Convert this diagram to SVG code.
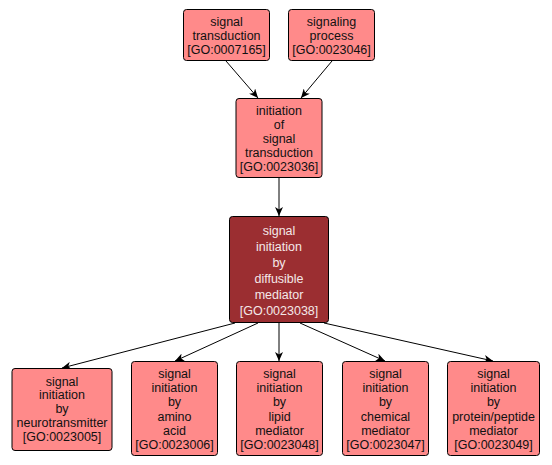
<svg xmlns="http://www.w3.org/2000/svg" width="552" height="465" viewBox="0 0 552 465">
<style>
.n rect{fill:#ff8a8a;stroke:#000;stroke-width:1}
.d rect{fill:#9b2e31;stroke:#000;stroke-width:1}
text{font-family:"Liberation Sans",Arial,sans-serif;font-size:12.5px;text-anchor:middle;fill:#111}
.d text{fill:#f4e8e8}
.e line{stroke:#000;stroke-width:1;marker-end:url(#a)}
</style>
<defs>
<marker id="a" markerWidth="10" markerHeight="8" refX="9" refY="4" orient="auto" markerUnits="userSpaceOnUse">
<path d="M0,0 L9,4 L0,8 L2.5,4 Z" fill="#000"/>
</marker>
</defs>
<rect width="552" height="465" fill="#fff"/>
<g class="e" id="edges">
<line x1="226" y1="61" x2="258" y2="98"/>
<line x1="332" y1="61" x2="301" y2="98"/>
<line x1="279" y1="178" x2="279" y2="216"/>
<line x1="235" y1="323" x2="62" y2="368"/>
<line x1="258" y1="323" x2="175" y2="361"/>
<line x1="279" y1="323" x2="279" y2="361"/>
<line x1="300" y1="323" x2="385" y2="361"/>
<line x1="324" y1="323" x2="493" y2="361"/>
</g>
<g class="n" id="GO0007165">
<rect x="183.5" y="9.5" width="86" height="51" rx="3"/>
<text x="226.5" y="26">signal</text>
<text x="226.5" y="39.5">transduction</text>
<text x="226.5" y="53.5">[GO:0007165]</text>
</g>
<g class="n" id="GO0023046">
<rect x="288.5" y="9.5" width="86" height="51" rx="3"/>
<text x="331.5" y="26">signaling</text>
<text x="331.5" y="39.5">process</text>
<text x="331.5" y="53.5">[GO:0023046]</text>
</g>
<g class="n" id="GO0023036">
<rect x="236" y="98.5" width="86" height="79" rx="3"/>
<text x="279" y="115">initiation</text>
<text x="279" y="129">of</text>
<text x="279" y="143">signal</text>
<text x="279" y="157">transduction</text>
<text x="279" y="171">[GO:0023036]</text>
</g>
<g class="d" id="GO0023038">
<rect x="229.5" y="216.5" width="99" height="106" rx="3"/>
<text x="279" y="234.5">signal</text>
<text x="279" y="251">initiation</text>
<text x="279" y="267">by</text>
<text x="279" y="283">diffusible</text>
<text x="279" y="299">mediator</text>
<text x="279" y="315">[GO:0023038]</text>
</g>
<g class="n" id="GO0023005">
<rect x="12" y="368.5" width="100" height="82" rx="3"/>
<text x="62" y="385.5">signal</text>
<text x="62" y="399">initiation</text>
<text x="62" y="413">by</text>
<text x="62" y="427">neurotransmitter</text>
<text x="62" y="441">[GO:0023005]</text>
</g>
<g class="n" id="GO0023006">
<rect x="131.5" y="361.5" width="86" height="94" rx="3"/>
<text x="174.5" y="377.5">signal</text>
<text x="174.5" y="391.5">initiation</text>
<text x="174.5" y="406">by</text>
<text x="174.5" y="420.5">amino</text>
<text x="174.5" y="434.5">acid</text>
<text x="174.5" y="448.5">[GO:0023006]</text>
</g>
<g class="n" id="GO0023048">
<rect x="236.5" y="361.5" width="86" height="94" rx="3"/>
<text x="279.5" y="377.5">signal</text>
<text x="279.5" y="391.5">initiation</text>
<text x="279.5" y="406">by</text>
<text x="279.5" y="420.5">lipid</text>
<text x="279.5" y="434.5">mediator</text>
<text x="279.5" y="448.5">[GO:0023048]</text>
</g>
<g class="n" id="GO0023047">
<rect x="342.5" y="361.5" width="86" height="94" rx="3"/>
<text x="385.5" y="377.5">signal</text>
<text x="385.5" y="391.5">initiation</text>
<text x="385.5" y="406">by</text>
<text x="385.5" y="420.5">chemical</text>
<text x="385.5" y="434.5">mediator</text>
<text x="385.5" y="448.5">[GO:0023047]</text>
</g>
<g class="n" id="GO0023049">
<rect x="447.5" y="361.5" width="92" height="94" rx="3"/>
<text x="493.5" y="377.5">signal</text>
<text x="493.5" y="391.5">initiation</text>
<text x="493.5" y="406">by</text>
<text x="493.5" y="420.5">protein/peptide</text>
<text x="493.5" y="434.5">mediator</text>
<text x="493.5" y="448.5">[GO:0023049]</text>
</g>
</svg>
